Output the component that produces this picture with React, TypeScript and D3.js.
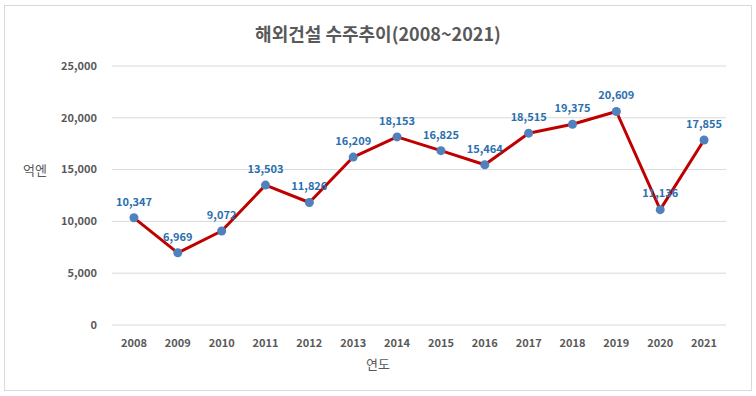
import React, { useEffect, useRef } from 'react';
import * as d3 from 'd3';

const years = ['2008', '2009', '2010', '2011', '2012', '2013', '2014', '2015', '2016', '2017', '2018', '2019', '2020', '2021'];
const orders = [10347, 6969, 9072, 13503, 11826, 16209, 18153, 16825, 15464, 18515, 19375, 20609, 11136, 17855];
const yTicks = [0, 5000, 10000, 15000, 20000, 25000];

const W = 756;
const H = 396;
const FONT = '"Noto Sans CJK KR", "Noto Sans", sans-serif';

const App = () => {
  const ref = useRef<SVGSVGElement>(null);

  useEffect(() => {
    const svg = d3.select(ref.current);
    svg.selectAll('*').remove();

    // frame
    svg.append('rect')
      .attr('x', 4.5).attr('y', 5.5)
      .attr('width', 747).attr('height', 385)
      .attr('fill', 'white')
      .attr('stroke', '#d9d9d9');

    const x = d3.scaleBand().domain(years).range([112, 726]);
    const y = d3.scaleLinear().domain([0, 25000]).range([325, 66]);
    const cx = (d: string) => (x(d) as number) + x.bandwidth() / 2;

    // gridlines
    svg.append('g').selectAll('line')
      .data(yTicks)
      .enter()
      .append('line')
      .attr('x1', 112).attr('x2', 726)
      .attr('y1', d => y(d)).attr('y2', d => y(d))
      .attr('stroke', '#d9d9d9')
      .attr('stroke-width', 1);

    // y tick labels
    svg.append('g').selectAll('text')
      .data(yTicks)
      .enter()
      .append('text')
      .attr('x', 97)
      .attr('y', d => y(d))
      .attr('dy', '0.35em')
      .attr('text-anchor', 'end')
      .style('font', `bold 11px ${FONT}`)
      .style('fill', '#595959')
      .text(d => d3.format(',')(d));

    // x tick labels
    svg.append('g').selectAll('text')
      .data(years)
      .enter()
      .append('text')
      .attr('x', d => cx(d))
      .attr('y', 343)
      .attr('dy', '0.35em')
      .attr('text-anchor', 'middle')
      .style('font', `bold 11px ${FONT}`)
      .style('fill', '#595959')
      .text(d => d);

    // line
    const line = d3.line<number>()
      .x((_, i) => cx(years[i]))
      .y(d => y(d));

    svg.append('path')
      .datum(orders)
      .attr('d', line)
      .attr('fill', 'none')
      .attr('stroke', '#c00000')
      .attr('stroke-width', 3)
      .attr('stroke-linejoin', 'round');

    // markers
    svg.append('g').selectAll('circle')
      .data(orders)
      .enter()
      .append('circle')
      .attr('cx', (_, i) => cx(years[i]))
      .attr('cy', d => y(d))
      .attr('r', 4.5)
      .attr('fill', '#4f81bd');

    // data labels
    svg.append('g').selectAll('text')
      .data(orders)
      .enter()
      .append('text')
      .attr('x', (_, i) => cx(years[i]))
      .attr('y', d => y(d) - 16)
      .attr('dy', '0.35em')
      .attr('text-anchor', 'middle')
      .style('font', `bold 11px ${FONT}`)
      .style('fill', '#2a6fad')
      .text(d => d3.format(',')(d));

    // title
    svg.append('text')
      .attr('x', 378).attr('y', 35)
      .attr('dy', '0.35em')
      .attr('text-anchor', 'middle')
      .style('font', `bold 18px ${FONT}`)
      .style('fill', '#595959')
      .text('해외건설 수주추이(2008~2021)');

    // axis titles
    svg.append('text')
      .attr('x', 35).attr('y', 170)
      .attr('dy', '0.35em')
      .attr('text-anchor', 'middle')
      .style('font', `13px ${FONT}`)
      .style('fill', '#595959')
      .text('억엔');

    svg.append('text')
      .attr('x', 378).attr('y', 364)
      .attr('dy', '0.35em')
      .attr('text-anchor', 'middle')
      .style('font', `13px ${FONT}`)
      .style('fill', '#595959')
      .text('연도');
  }, []);

  return (
    <svg ref={ref} width={W} height={H} style={{ position: 'absolute', left: 0, top: 0 }} />
  );
};

export default App;
